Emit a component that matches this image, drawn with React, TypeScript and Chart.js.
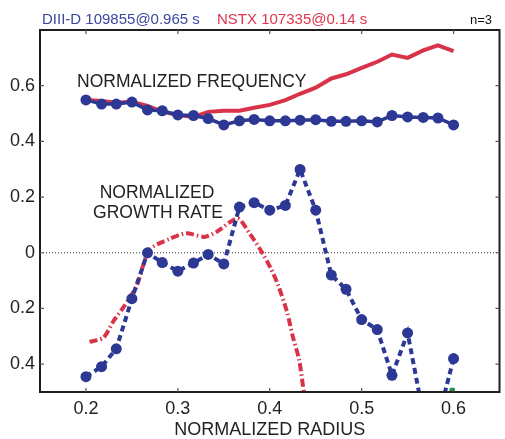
import React, { useEffect, useRef } from 'react';
import Chart from 'chart.js/auto';

// ---- data ----
const diiidRadius = [0.200, 0.217, 0.233, 0.250, 0.267, 0.283, 0.300, 0.317, 0.333, 0.350, 0.367, 0.383, 0.400, 0.417, 0.433, 0.450, 0.467, 0.483, 0.500, 0.517, 0.533, 0.550, 0.567, 0.583, 0.600];
const diiidFreq = [0.549, 0.534, 0.534, 0.541, 0.513, 0.510, 0.495, 0.493, 0.482, 0.459, 0.474, 0.479, 0.474, 0.474, 0.476, 0.478, 0.472, 0.472, 0.474, 0.470, 0.493, 0.488, 0.486, 0.484, 0.459];
const diiidGrowth = [-0.445, -0.409, -0.345, -0.165, 0.0, -0.035, -0.066, -0.037, -0.006, -0.040, 0.164, 0.180, 0.153, 0.170, 0.299, 0.153, -0.080, -0.131, -0.240, -0.276, -0.440, -0.288, -0.580, -0.600, -0.380];
const nstxFreq = [0.549, 0.545, 0.539, 0.542, 0.527, 0.507, 0.495, 0.488, 0.506, 0.510, 0.510, 0.521, 0.531, 0.548, 0.571, 0.593, 0.626, 0.641, 0.664, 0.686, 0.712, 0.700, 0.727, 0.745, 0.724];
const nstxGrowthRadius = [0.204, 0.219, 0.230, 0.242, 0.255, 0.269, 0.291, 0.309, 0.329, 0.342, 0.365, 0.378, 0.390, 0.401, 0.409, 0.419, 0.425, 0.432, 0.437];
const nstxGrowth = [-0.320, -0.305, -0.245, -0.190, -0.120, 0.010, 0.050, 0.070, 0.057, 0.075, 0.123, 0.070, 0.010, -0.055, -0.115, -0.215, -0.300, -0.385, -0.500];
const greenRadius = [0.5985];
const greenValue = [-0.494];

const xTicks = [0.2, 0.3, 0.4, 0.5, 0.6];
const yTicks = [-0.4, -0.2, 0, 0.2, 0.4, 0.6];

const BLUE = '#2c3893';
const RED = '#d9334a';
const GREEN = '#1a9a4a';
const INK = '#1e1e1e';
const FONT = "'Liberation Sans', Arial, Helvetica, sans-serif";

const pts = (xs: number[], ys: number[]) => xs.map((x, i) => ({ x, y: ys[i] }));

const decorPlugin = {
  id: 'decor',
  beforeDatasetsDraw(chart: any) {
    const { ctx, chartArea: a, scales } = chart;
    const y0 = scales.y.getPixelForValue(0);
    ctx.save();
    ctx.strokeStyle = '#333';
    ctx.lineWidth = 1;
    ctx.setLineDash([1, 2]);
    ctx.beginPath();
    ctx.moveTo(a.left, y0);
    ctx.lineTo(a.right, y0);
    ctx.stroke();
    ctx.restore();
  },
  afterDatasetsDraw(chart: any) {
    const { ctx, chartArea: a, scales } = chart;
    ctx.save();
    ctx.strokeStyle = INK;
    ctx.lineWidth = 2;
    ctx.setLineDash([]);
    ctx.strokeRect(a.left, a.top, a.right - a.left, a.bottom - a.top);
    ctx.lineWidth = 1.2;
    ctx.strokeStyle = '#555';
    ctx.beginPath();
    xTicks.forEach((v) => {
      const px = scales.x.getPixelForValue(v);
      ctx.moveTo(px, a.top);
      ctx.lineTo(px, a.top + 4);
      ctx.moveTo(px, a.bottom);
      ctx.lineTo(px, a.bottom - 4);
    });
    yTicks.forEach((v) => {
      const py = scales.y.getPixelForValue(v);
      ctx.moveTo(a.left, py);
      ctx.lineTo(a.left + 4, py);
      ctx.moveTo(a.right, py);
      ctx.lineTo(a.right - 4, py);
    });
    ctx.stroke();

    // annotations
    ctx.fillStyle = '#222';
    ctx.textBaseline = 'middle';
    ctx.font = `17.5px ${FONT}`;
    ctx.textAlign = 'left';
    ctx.fillText('NORMALIZED FREQUENCY', 77, 82);
    ctx.textAlign = 'center';
    ctx.fillText('NORMALIZED', 157, 193);
    ctx.fillText('GROWTH RATE', 158, 213);

    // header
    ctx.textBaseline = 'alphabetic';
    ctx.textAlign = 'left';
    ctx.font = `15px ${FONT}`;
    ctx.fillStyle = '#3a47a0';
    ctx.fillText('DIII-D 109855@0.965 s', 42, 24);
    ctx.fillStyle = '#e0354d';
    ctx.fillText('NSTX 107335@0.14 s', 217, 24);
    ctx.fillStyle = '#111';
    ctx.font = `13px ${FONT}`;
    ctx.textAlign = 'right';
    ctx.fillText('n=3', 492, 24);
    ctx.restore();
  },
};

export default function App() {
  const ref = useRef<HTMLCanvasElement | null>(null);
  useEffect(() => {
    if (!ref.current) return;
    const tickFont = { family: FONT, size: 18 };
    const chart = new Chart(ref.current, {
      type: 'line',
      data: {
        datasets: [
          {
            label: 'DIII-D growth',
            data: pts(diiidRadius, diiidGrowth),
            borderColor: BLUE,
            backgroundColor: BLUE,
            borderWidth: 4,
            borderDash: [6, 4],
            pointRadius: 5.5,
            pointBackgroundColor: BLUE,
            pointBorderWidth: 0,
            tension: 0,
          },
          {
            label: 'DIII-D frequency',
            data: pts(diiidRadius, diiidFreq),
            borderColor: BLUE,
            backgroundColor: BLUE,
            borderWidth: 3.5,
            pointRadius: 5.5,
            pointBackgroundColor: BLUE,
            pointBorderWidth: 0,
            tension: 0,
          },
          {
            label: 'green',
            data: pts(greenRadius, greenValue),
            borderColor: GREEN,
            backgroundColor: GREEN,
            pointStyle: 'rect',
            pointRadius: 3,
            showLine: false,
          },
          {
            label: 'NSTX frequency',
            data: pts(diiidRadius, nstxFreq),
            borderColor: RED,
            borderWidth: 4,
            pointRadius: 0,
            tension: 0,
          },
          {
            label: 'NSTX growth',
            data: pts(nstxGrowthRadius, nstxGrowth),
            borderColor: RED,
            borderWidth: 4,
            borderDash: [8, 3, 1.5, 3],
            pointRadius: 0,
            tension: 0.25,
          },
        ],
      } as any,
      options: {
        responsive: false,
        animation: false,
        events: [],
        layout: { padding: { top: 30, right: 4.5, left: 0, bottom: 0 } },
        plugins: { legend: { display: false }, tooltip: { enabled: false } },
        scales: {
          x: {
            type: 'linear',
            min: 0.15,
            max: 0.65,
            afterBuildTicks: (s: any) => {
              s.ticks = xTicks.map((v) => ({ value: v }));
            },
            afterFit: (s: any) => {
              s.height = 47;
            },
            grid: { display: false, drawTicks: false },
            border: { display: false },
            ticks: {
              padding: 6.5,
              color: '#222',
              font: tickFont,
              maxRotation: 0,
              callback: (v: any) => Number(v).toFixed(1),
            },
            title: {
              display: true,
              text: 'NORMALIZED RADIUS',
              color: '#222',
              font: { family: FONT, size: 18, lineHeight: 1 },
              padding: { top: 0, bottom: 0 },
            },
          },
          y: {
            type: 'linear',
            min: -0.5,
            max: 0.8,
            afterBuildTicks: (s: any) => {
              s.ticks = yTicks.map((v) => ({ value: v }));
            },
            afterFit: (s: any) => {
              s.width = 40;
            },
            grid: { display: false, drawTicks: false },
            border: { display: false },
            ticks: {
              padding: 5,
              color: '#222',
              font: tickFont,
              callback: (v: any) => (Math.abs(v) < 1e-9 ? '0' : Math.abs(Number(v)).toFixed(1)),
            },
          },
        },
      } as any,
      plugins: [decorPlugin],
    });
    return () => chart.destroy();
  }, []);

  return (
    <div style={{ position: 'fixed', left: 0, top: 0, width: 505, height: 439, background: '#fff' }}>
      <canvas ref={ref} width={505} height={439} style={{ display: 'block' }} />
    </div>
  );
}
